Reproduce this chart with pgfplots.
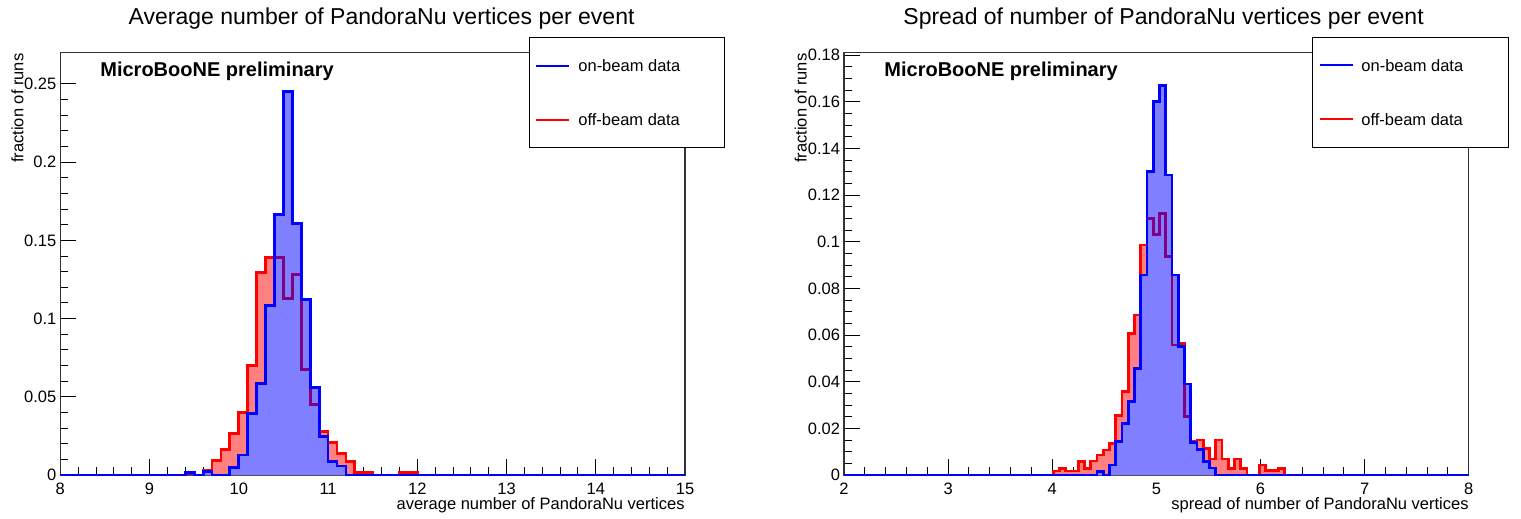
\documentclass[border=0pt]{standalone}
\usepackage{fontspec}
\setmainfont{Liberation Sans}
\usepackage{pgfplots}
\pgfplotsset{compat=1.18}
\usepackage{pgfplotstable}

% bin left edge, content (const plot mark left)
\pgfplotstableread{
x y
8.0 0
9.4 0.0015
9.5 0
9.6 0.0020
9.7 0
9.9 0.0047
10.0 0.0128
10.1 0.0395
10.2 0.0583
10.3 0.1083
10.4 0.1667
10.5 0.2453
10.6 0.1609
10.7 0.1122
10.8 0.0560
10.9 0.0246
11.0 0.0085
11.1 0.0058
11.2 0
15.0 0
}\avgon

\pgfplotstableread{
x y
8.0 0
9.4 0.0007
9.5 0
9.6 0.0032
9.7 0.0092
9.8 0.0165
9.9 0.0267
10.0 0.0400
10.1 0.0700
10.2 0.1297
10.3 0.1390
10.4 0.1390
10.5 0.1130
10.6 0.1280
10.7 0.0677
10.8 0.0449
10.9 0.0278
11.0 0.0207
11.1 0.0139
11.2 0.0085
11.3 0.0015
11.5 0
11.8 0.0015
12.0 0
15.0 0
}\avgoff

\pgfplotstableread{
x y
2.00 0
4.43 0.0014
4.49 0
4.55 0.0043
4.61 0.0143
4.67 0.0221
4.73 0.0314
4.79 0.0457
4.85 0.0857
4.91 0.1300
4.97 0.1600
5.03 0.1670
5.09 0.1286
5.15 0.0857
5.21 0.0550
5.27 0.0390
5.33 0.0140
5.39 0.0110
5.45 0.0057
5.51 0.0030
5.57 0
8.00 0
}\spron

\pgfplotstableread{
x y
2.00 0
4.01 0.0017
4.07 0.0029
4.13 0.0017
4.25 0.0057
4.31 0.0029
4.37 0.0060
4.43 0.0086
4.49 0.0107
4.55 0.0136
4.61 0.0255
4.67 0.0357
4.73 0.0607
4.79 0.0686
4.85 0.0986
4.91 0.1100
4.97 0.1030
5.03 0.1120
5.09 0.0936
5.15 0.0557
5.21 0.0564
5.27 0.0250
5.33 0.0146
5.39 0.0150
5.45 0.0114
5.51 0.0069
5.57 0.0150
5.63 0.0069
5.69 0.0029
5.75 0.0069
5.81 0.0029
5.87 0
5.99 0.0043
6.05 0.0021
6.17 0.0029
6.23 0
8.00 0
}\sproff

\pgfplotsset{
  hframe/.style={
    scale only axis,
    width=312.4pt, height=211.15pt,
    ymin=0,
    clip=false,
    scaled ticks=false,
    tick align=inside,
    tick pos=left,
    major tick length=8pt,
    minor tick length=4pt,
    axis line style={black!80, line width=0.6pt},
    tick style={black, line width=0.5pt},
    tick label style={font=\fontsize{8.25}{10}\selectfont},
    /pgf/number format/assume math mode=true,
    yticklabel style={/pgf/number format/fixed, /pgf/number format/precision=2,
      inner sep=0pt, xshift=-1.8pt},
    xticklabel style={inner sep=0pt, yshift=-4pt},
  },
  redfill/.style={const plot mark left, fill=red!50, draw=none},
  whitefill/.style={const plot mark left, fill=white, draw=none},
  redline/.style={const plot mark left, red, line width=1.4pt},
  bluefill/.style={const plot mark left, fill=blue, fill opacity=0.5, draw=none},
  blueline/.style={const plot mark left, blue, line width=1.4pt},
}

\begin{document}
\begin{tikzpicture}

% left panel: average
\begin{axis}[hframe,
    at={(30.15pt,-237.5pt)}, anchor=south west,
    xmin=8, xmax=15, ymax=0.27,
    xtick={8,9,...,15}, minor x tick num=4,
    ytick={0,0.05,0.1,0.15,0.2,0.25}, minor y tick num=4,
]
\addplot[redfill] table {\avgoff} \closedcycle;
\addplot[whitefill] table {\avgon} \closedcycle;
\addplot[redline] table {\avgoff};
\addplot[bluefill] table {\avgon} \closedcycle;
\addplot[blueline] table {\avgon};
\end{axis}

% right panel: spread
\begin{axis}[hframe,
    at={(422pt,-237.5pt)}, anchor=south west,
    xmin=2, xmax=8, ymax=0.181,
    xtick={2,3,...,8}, minor x tick num=4,
    ytick={0,0.02,0.04,0.06,0.08,0.1,0.12,0.14,0.16,0.18}, minor y tick num=3,
]
\addplot[redfill] table {\sproff} \closedcycle;
\addplot[whitefill] table {\spron} \closedcycle;
\addplot[redline] table {\sproff};
\addplot[bluefill] table {\spron} \closedcycle;
\addplot[blueline] table {\spron};
\end{axis}

% texts and legends, in image pixels
\begin{scope}[x=0.5pt, y=-0.5pt]
\path[use as bounding box] (0,0) rectangle (1521,519);

\node[anchor=base west, inner sep=0pt, font=\fontsize{11.5}{14}\selectfont] at (128.3,25) {Average number of PandoraNu vertices per event};
\node[anchor=base west, inner sep=0pt, font=\fontsize{11.5}{14}\selectfont] at (903,25) {Spread of number of PandoraNu vertices per event};

\node[anchor=base west, inner sep=0pt, font=\fontsize{10}{12}\selectfont\bfseries] at (100,76.7) {MicroBooNE preliminary};
\node[anchor=base west, inner sep=0pt, font=\fontsize{10}{12}\selectfont\bfseries] at (884,76.7) {MicroBooNE preliminary};

\node[rotate=90, anchor=base east, inner sep=0pt, font=\fontsize{8.25}{10}\selectfont] at (23.3,53.3) {fraction of runs};
\node[rotate=90, anchor=base east, inner sep=0pt, font=\fontsize{8.25}{10}\selectfont] at (806.7,53.3) {fraction of runs};

\node[anchor=base east, inner sep=0pt, font=\fontsize{8.25}{10}\selectfont] at (685,509) {average number of PandoraNu vertices};
\node[anchor=base east, inner sep=0pt, font=\fontsize{8.25}{10}\selectfont] at (1469,509) {spread of number of PandoraNu vertices};

\begin{scope}[font=\fontsize{8.25}{10}\selectfont]
\filldraw[fill=white, draw=black, line width=0.5pt] (529,37.3) rectangle (724.3,147.3);
\draw[blue, line width=1pt] (536,65.7) -- (569,65.7);
\draw[red, line width=1pt] (536,120) -- (569,120);
\node[anchor=west, inner sep=0pt] at (578,65.7) {on-beam data};
\node[anchor=west, inner sep=0pt] at (578,120) {off-beam data};

\filldraw[fill=white, draw=black, line width=0.5pt] (1312.3,37.3) rectangle (1508.3,147.3);
\draw[blue, line width=1pt] (1320,65.3) -- (1353.3,65.3);
\draw[red, line width=1pt] (1320,119.3) -- (1353.3,119.3);
\node[anchor=west, inner sep=0pt] at (1361,65.3) {on-beam data};
\node[anchor=west, inner sep=0pt] at (1361,119.3) {off-beam data};
\end{scope}
\end{scope}

\end{tikzpicture}
\end{document}
